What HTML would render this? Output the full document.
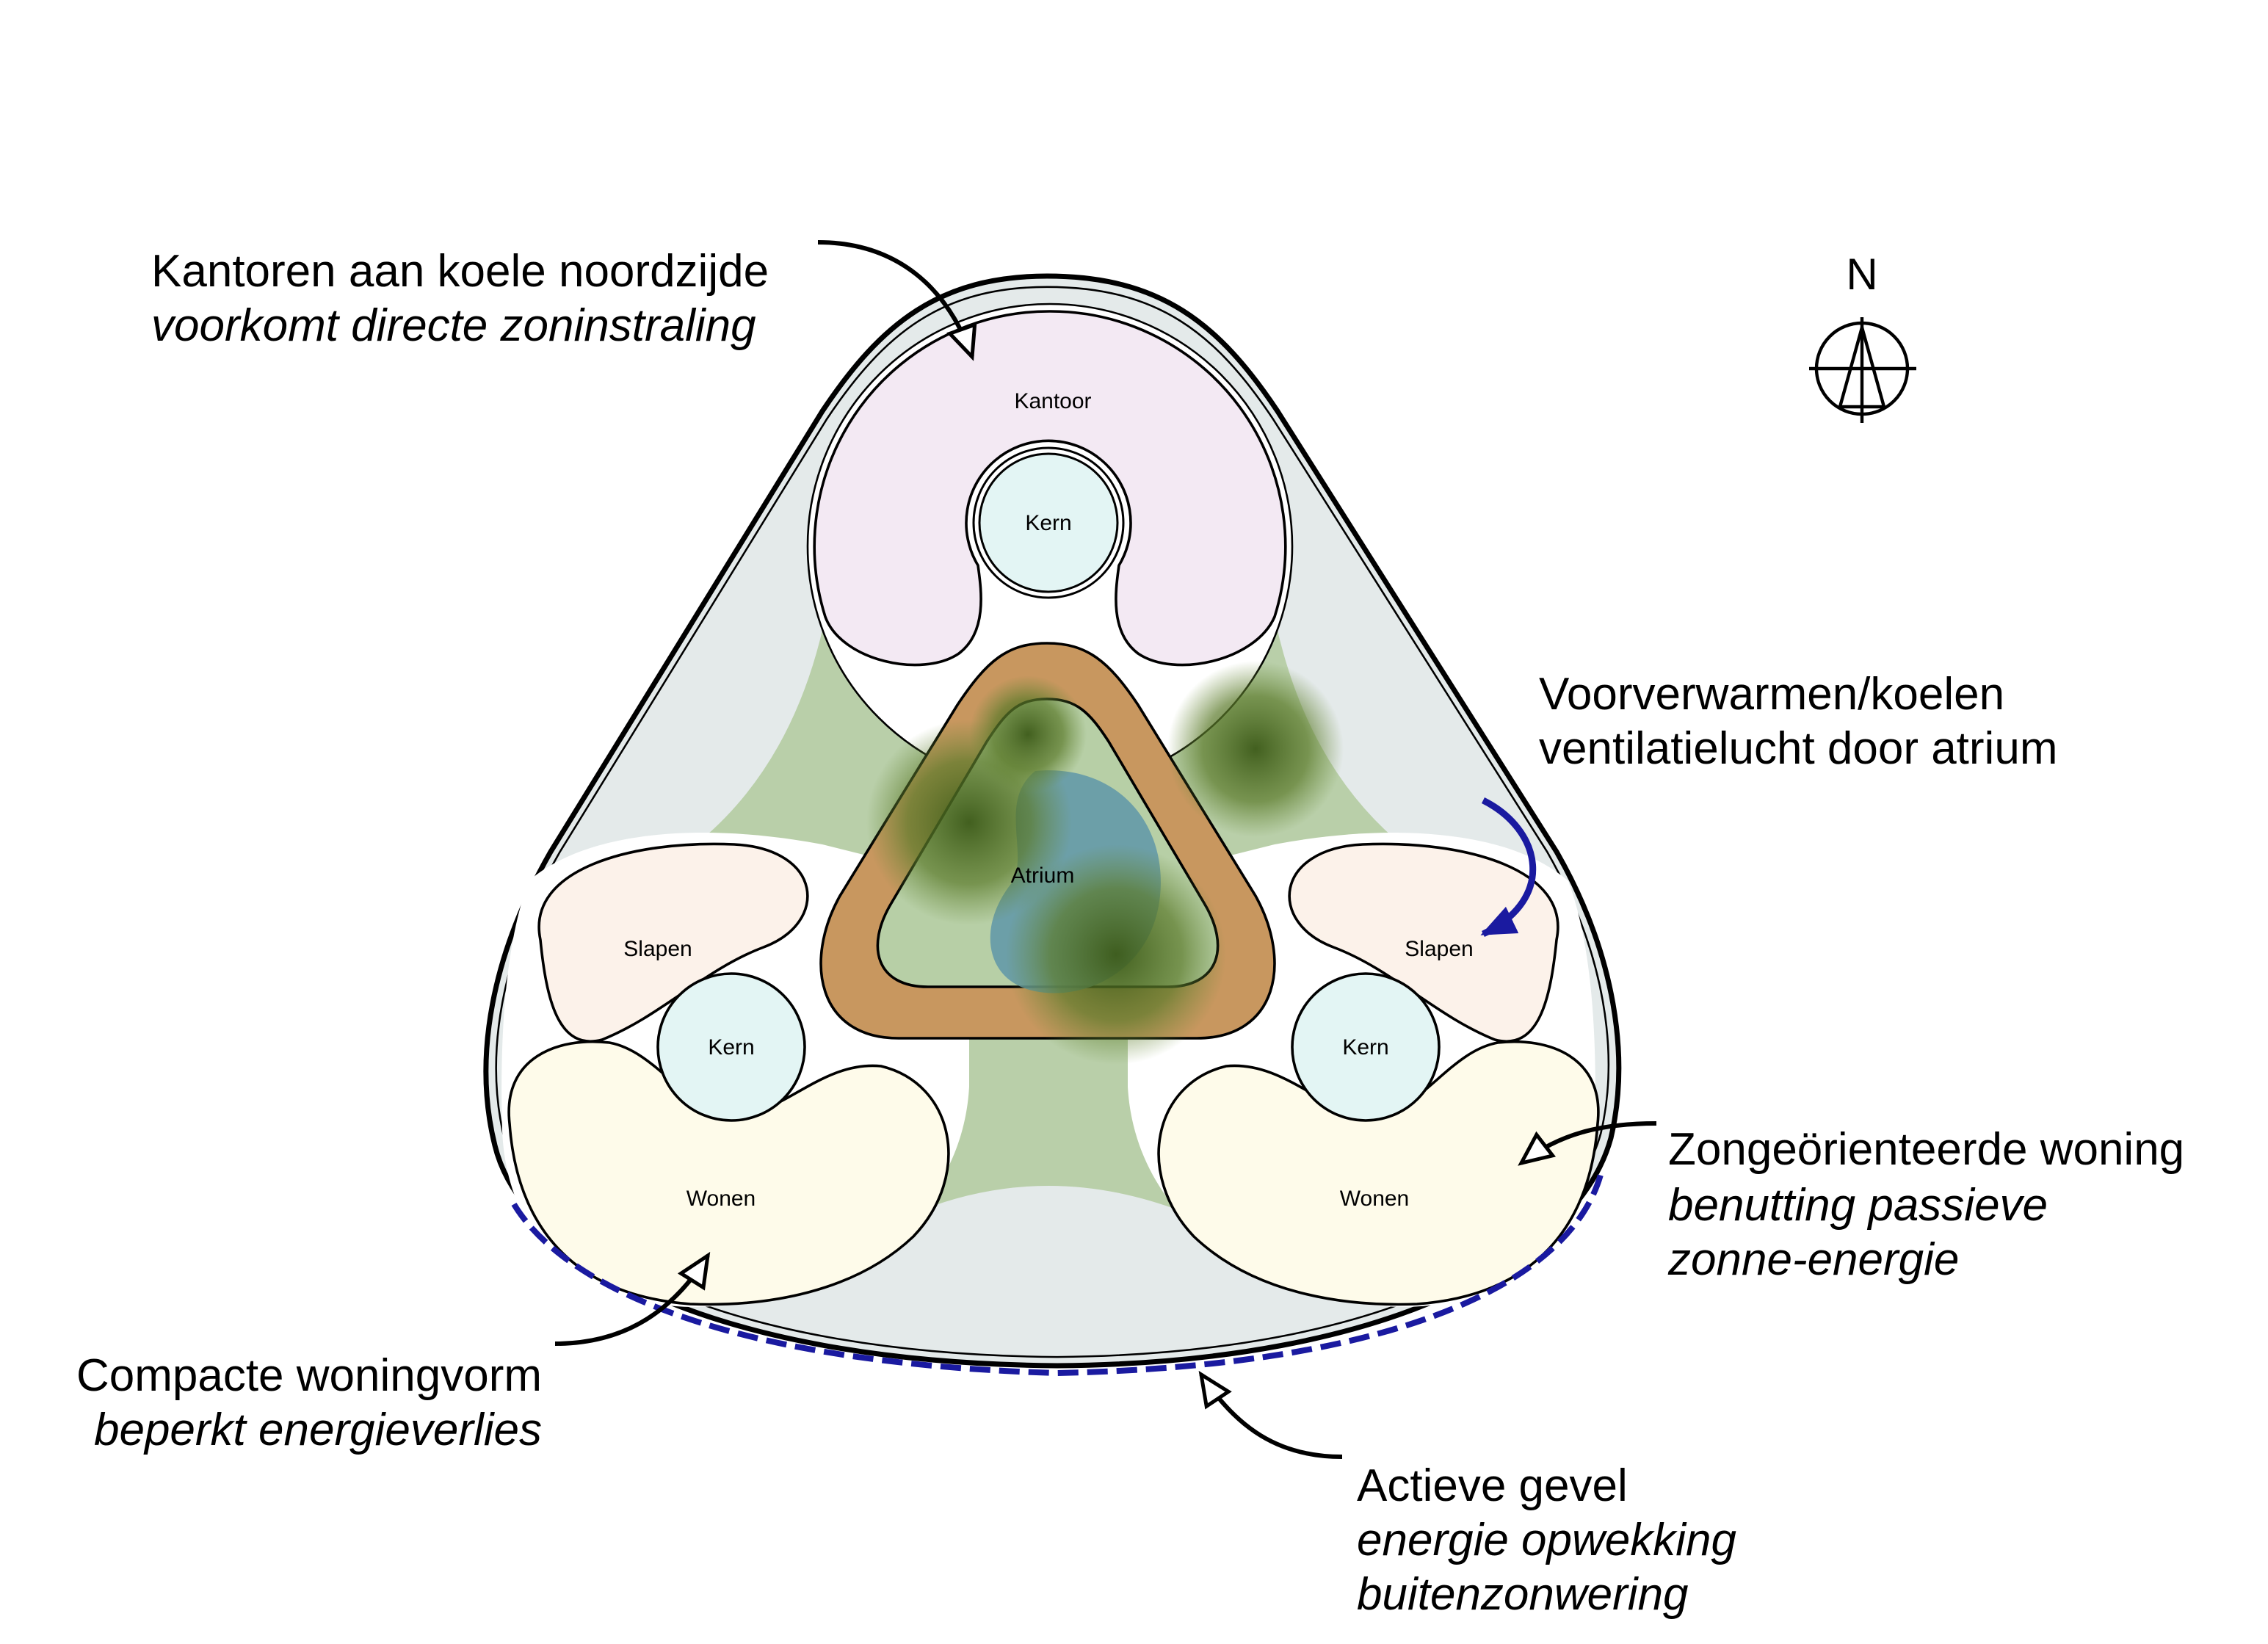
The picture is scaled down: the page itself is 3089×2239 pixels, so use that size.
<!DOCTYPE html>
<html><head><meta charset="utf-8"><style>
html,body{margin:0;padding:0;background:#fff;}
svg{display:block}
text{font-family:"Liberation Sans",Arial,sans-serif;fill:#000}
.lbl{font-size:31px}
.it{font-style:italic}
.sm{font-size:15px;text-anchor:middle}
</style></head><body>
<svg width="3089" height="2239" viewBox="0 0 1544.5 1119.5" xmlns="http://www.w3.org/2000/svg">
<defs>
<marker id="ah" markerUnits="userSpaceOnUse" markerWidth="26" markerHeight="22" refX="22" refY="11" orient="auto">
<path d="M2,2 L22,11 L2,20 Z" fill="#fff" stroke="#000" stroke-width="2.5"/>
</marker>
<marker id="bh" markerUnits="userSpaceOnUse" markerWidth="26" markerHeight="22" refX="22" refY="11" orient="auto">
<path d="M0,1 L24,11 L0,21 Z" fill="#1a1aa0"/>
</marker>
<radialGradient id="palm" cx="50%" cy="50%" r="50%">
<stop offset="0" stop-color="#3c5a18" stop-opacity="0.95"/>
<stop offset="0.6" stop-color="#5b7a2a" stop-opacity="0.7"/>
<stop offset="1" stop-color="#6a8a3a" stop-opacity="0"/>
</radialGradient>
</defs>

<!-- outer shape -->
<path d="M713,188 C790,188 830,220 870,280 L1060,580 C1100,650 1110,720 1097,775 C1075,855 950,928 720,930 C480,928 355,855 337,780 C322,720 335,650 375,580 L560,280 C600,220 640,188 713,188 Z" fill="#e4eaea" stroke="#000" stroke-width="3.5"/>
<path d="M713,188 C790,188 830,220 870,280 L1060,580 C1100,650 1110,720 1097,775 C1075,855 950,928 720,930 C480,928 355,855 337,780 C322,720 335,650 375,580 L560,280 C600,220 640,188 713,188 Z" fill="none" stroke="#000" stroke-width="1.3" transform="translate(715,600) scale(0.982) translate(-715,-600)"/>

<!-- green area -->
<path d="M565,405 Q545,520 470,578 L655,740 L625,825 Q713,790 805,825 L775,740 L958,578 Q885,520 865,405 Z" fill="#b9cfa9"/>

<!-- white backgrounds -->
<circle cx="715" cy="372" r="165" fill="#fff" stroke="#000" stroke-width="1.3"/>
<rect x="640" y="430" width="150" height="45" fill="#fff"/>
<path d="M360,600 C400,565 480,560 560,575 L660,600 L660,740 C655,830 570,890 470,890 C390,888 345,840 342,770 C340,700 345,640 360,600 Z" fill="#fff"/>
<path d="M1068,600 C1028,565 948,560 868,575 L768,600 L768,740 C773,830 858,890 958,890 C1038,888 1083,840 1086,770 C1088,700 1083,640 1068,600 Z" fill="#fff"/>

<!-- Kantoor -->
<path d="M715,212 A160,160 0 0 1 868,420 C855,450 800,462 775,445 C755,430 760,400 762,385 A56,56 0 1 0 666,385 C668,400 673,430 653,445 C628,462 573,450 562,420 A160,160 0 0 1 715,212 Z" fill="#f3e9f3" stroke="#000" stroke-width="1.8"/>
<circle cx="714" cy="356" r="51" fill="#fff" stroke="#000" stroke-width="1.5"/>
<circle cx="714" cy="356" r="47" fill="#e3f5f4" stroke="#000" stroke-width="1.5"/>
<text class="sm" x="717" y="278">Kantoor</text>
<text class="sm" x="714" y="361">Kern</text>

<!-- Atrium -->
<path d="M713,438 C740,438 755,450 775,480 L855,610 C880,655 870,707 815,707 L612,707 C557,707 547,655 572,610 L652,480 C672,450 686,438 713,438 Z" fill="#c8975f" stroke="#000" stroke-width="1.8"/>
<path d="M713,476 C733,476 742,485 755,505 L820,615 C838,645 830,672 795,672 L632,672 C597,672 589,645 607,615 L672,505 C685,485 693,476 713,476 Z" fill="#b7cfa6" stroke="#000" stroke-width="1.8"/>
<path d="M705,525 C760,520 795,560 790,610 C785,660 740,682 705,675 C670,668 665,630 690,600 C700,580 680,545 705,525 Z" fill="#5f97a8" opacity="0.85"/>
<circle cx="660" cy="560" r="70" fill="url(#palm)"/>
<circle cx="760" cy="650" r="75" fill="url(#palm)"/>
<circle cx="855" cy="510" r="60" fill="url(#palm)"/>
<circle cx="700" cy="500" r="40" fill="url(#palm)"/>
<text class="sm" x="710" y="601">Atrium</text>

<!-- left unit -->
<path d="M368,640 C358,592 430,572 500,575 C560,578 565,628 520,645 C480,660 450,692 410,708 C380,716 372,680 368,640 Z" fill="#fcf2ea" stroke="#000" stroke-width="1.8"/>
<path d="M347,765 C342,720 380,706 415,710 C448,716 468,758 500,760 C532,760 560,722 600,726 C650,738 662,800 622,842 C582,880 522,890 470,888 C390,882 352,835 347,765 Z" fill="#fefbea" stroke="#000" stroke-width="1.8"/>
<circle cx="498" cy="713" r="50" fill="#e3f5f4" stroke="#000" stroke-width="1.8"/>
<text class="sm" x="448" y="651">Slapen</text>
<text class="sm" x="498" y="718">Kern</text>
<text class="sm" x="491" y="821">Wonen</text>

<!-- right unit -->
<g transform="translate(1428,0) scale(-1,1)">
<path d="M368,640 C358,592 430,572 500,575 C560,578 565,628 520,645 C480,660 450,692 410,708 C380,716 372,680 368,640 Z" fill="#fcf2ea" stroke="#000" stroke-width="1.8"/>
<path d="M340,765 C335,720 373,706 408,710 C441,716 461,758 493,760 C525,760 553,722 593,726 C643,738 655,800 615,842 C575,880 515,890 463,888 C383,882 345,835 340,765 Z" fill="#fefbea" stroke="#000" stroke-width="1.8"/>
<circle cx="498" cy="713" r="50" fill="#e3f5f4" stroke="#000" stroke-width="1.8"/>
</g>
<text class="sm" x="980" y="651">Slapen</text>
<text class="sm" x="930" y="718">Kern</text>
<text class="sm" x="936" y="821">Wonen</text>

<!-- blue dashed facade -->
<path d="M350,820 C380,870 480,928 720,935 C960,930 1070,870 1090,800" fill="none" stroke="#1a1aa0" stroke-width="4" stroke-dasharray="14,6"/>

<!-- arrows -->
<path d="M557,165 C610,165 645,195 662,243" fill="none" stroke="#000" stroke-width="3" marker-end="url(#ah)"/>
<path d="M1128,765 C1090,765 1062,772 1036,792" fill="none" stroke="#000" stroke-width="3" marker-end="url(#ah)"/>
<path d="M378,915 C420,915 455,898 482,855" fill="none" stroke="#000" stroke-width="3" marker-end="url(#ah)"/>
<path d="M914,992 C870,992 842,972 818,936" fill="none" stroke="#000" stroke-width="3" marker-end="url(#ah)"/>
<path d="M1010,545 C1050,565 1060,612 1010,636" fill="none" stroke="#1a1aa0" stroke-width="4.5" marker-end="url(#bh)"/>

<!-- labels -->
<text class="lbl" x="103" y="195">Kantoren aan koele noordzijde</text>
<text class="lbl it" x="103" y="232">voorkomt directe zoninstraling</text>
<text class="lbl" x="1048" y="483">Voorverwarmen/koelen</text>
<text class="lbl" x="1048" y="520">ventilatielucht door atrium</text>
<text class="lbl" x="1136" y="793">Zongeörienteerde woning</text>
<text class="lbl it" x="1136" y="831">benutting passieve</text>
<text class="lbl it" x="1136" y="868">zonne-energie</text>
<text class="lbl" x="369" y="947" text-anchor="end">Compacte woningvorm</text>
<text class="lbl it" x="369" y="984" text-anchor="end">beperkt energieverlies</text>
<text class="lbl" x="924" y="1022">Actieve gevel</text>
<text class="lbl it" x="924" y="1059">energie opwekking</text>
<text class="lbl it" x="924" y="1096">buitenzonwering</text>

<!-- north -->
<text x="1268" y="197" font-size="30" text-anchor="middle">N</text>
<g stroke="#000" stroke-width="2.2" fill="none">
<circle cx="1268" cy="251" r="31"/>
<line x1="1232" y1="251" x2="1305" y2="251"/>
<line x1="1268" y1="216" x2="1268" y2="288"/>
<path d="M1253,277 L1268,223 L1283,277 Z"/>
</g>
</svg>
</body></html>
